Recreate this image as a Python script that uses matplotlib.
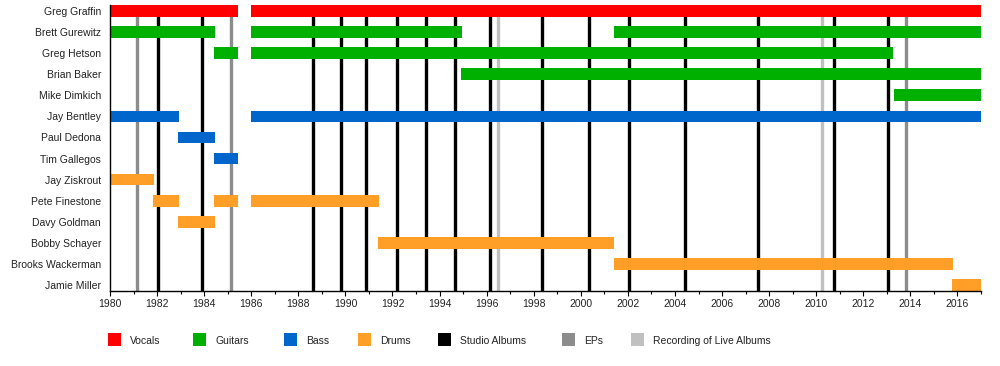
import matplotlib
matplotlib.use("Agg")
import matplotlib.pyplot as plt
from matplotlib.patches import Rectangle

plt.rcParams['font.family'] = ['Liberation Sans', 'DejaVu Sans']

members = ["Greg Graffin", "Brett Gurewitz", "Greg Hetson", "Brian Baker",
           "Mike Dimkich", "Jay Bentley", "Paul Dedona", "Tim Gallegos",
           "Jay Ziskrout", "Pete Finestone", "Davy Goldman", "Bobby Schayer",
           "Brooks Wackerman", "Jamie Miller"]

# Membership periods
bar_member = ["Greg Graffin", "Greg Graffin",
              "Brett Gurewitz", "Brett Gurewitz", "Brett Gurewitz",
              "Greg Hetson", "Greg Hetson",
              "Brian Baker", "Mike Dimkich",
              "Jay Bentley", "Jay Bentley",
              "Paul Dedona", "Tim Gallegos", "Jay Ziskrout",
              "Pete Finestone", "Pete Finestone", "Pete Finestone",
              "Davy Goldman", "Bobby Schayer", "Brooks Wackerman", "Jamie Miller"]
bar_start = [1980.0, 1985.98,
             1980.0, 1985.98, 2001.39,
             1984.41, 1985.98,
             1994.9, 2013.32,
             1980.0, 1985.98,
             1982.89, 1984.41, 1980.0,
             1981.82, 1984.41, 1985.98,
             1982.89, 1991.38, 2001.39, 2015.78]
bar_end = [1985.43, 2017.0,
           1984.44, 1994.94, 2017.0,
           1985.43, 2013.28,
           2017.0, 2017.0,
           1982.93, 2017.0,
           1984.46, 1985.43, 1981.87,
           1982.93, 1985.43, 1991.42,
           1984.46, 2001.43, 2015.82, 2017.0]
bar_role = ["Vocals", "Vocals",
            "Guitars", "Guitars", "Guitars",
            "Guitars", "Guitars",
            "Guitars", "Guitars",
            "Bass", "Bass",
            "Bass", "Bass", "Drums",
            "Drums", "Drums", "Drums",
            "Drums", "Drums", "Drums", "Drums"]

studio_albums = [1982.05, 1983.92, 1988.64, 1989.82, 1990.88, 1992.2, 1993.43,
                 1994.66, 1996.16, 1998.35, 2000.34, 2002.04, 2004.42, 2007.52,
                 2010.74, 2013.03]
eps = [1981.16, 1985.15, 2013.8]
live_albums = [1996.48, 2010.23]

role_colors = {"Vocals": "#FF0000", "Guitars": "#00B000", "Bass": "#0066CC",
               "Drums": "#FF9F28"}
studio_color = "#000000"
ep_color = "#8C8C8C"
live_color = "#C0C0C0"

legend_labels = ["Vocals", "Guitars", "Bass", "Drums", "Studio Albums", "EPs",
                 "Recording of Live Albums"]
legend_colors = [role_colors["Vocals"], role_colors["Guitars"], role_colors["Bass"],
                 role_colors["Drums"], studio_color, ep_color, live_color]

W, H = 1000, 366
fig = plt.figure(figsize=(W / 100, H / 100), dpi=100)
ax = fig.add_axes([110 / W, 1 - 291 / H, 871 / W, 286 / H])

bh = 0.553
row = {m: i for i, m in enumerate(members)}

for x in studio_albums:
    ax.axvline(x, color=studio_color, lw=2.4, zorder=1)
for x in eps:
    ax.axvline(x, color=ep_color, lw=2.4, zorder=1)
for x in live_albums:
    ax.axvline(x, color=live_color, lw=2.4, zorder=1)

for m, s, e, r in zip(bar_member, bar_start, bar_end, bar_role):
    ax.barh(row[m], e - s, left=s, height=bh, color=role_colors[r], lw=0, zorder=2)

ax.set_xlim(1980, 2017)
ax.set_ylim(len(members) - 1 + bh / 2, -bh / 2)
ax.set_yticks(range(len(members)))
ax.set_yticklabels(members, fontsize=7.5, color="#222222")
ax.tick_params(axis='y', length=0, pad=6.5)
ax.set_xticks(range(1980, 2017, 2))
ax.set_xticks(range(1980, 2018), minor=True)
ax.tick_params(axis='x', which='major', length=3.5, width=0.8, labelsize=7.5,
               labelcolor="#222222", pad=2)
ax.tick_params(axis='x', which='minor', length=2.5, width=0.8)
for sp in ["top", "right"]:
    ax.spines[sp].set_visible(False)
for sp in ["left", "bottom"]:
    ax.spines[sp].set_linewidth(1.0)
    ax.spines[sp].set_color("black")

legend_x = [108, 193, 284, 358, 438, 562, 631]
ly_box = 339.5
ly_text = 341
for x, lab, c in zip(legend_x, legend_labels, legend_colors):
    fig.patches.append(Rectangle((x / W, 1 - (ly_box + 6.3) / H), 12.7 / W, 12.6 / H,
                                 transform=fig.transFigure, color=c, lw=0))
    fig.text((x + 22) / W, 1 - ly_text / H, lab, fontsize=7.5, color="#222222",
             va='center', ha='left')

fig.savefig("out.png", dpi=100)
